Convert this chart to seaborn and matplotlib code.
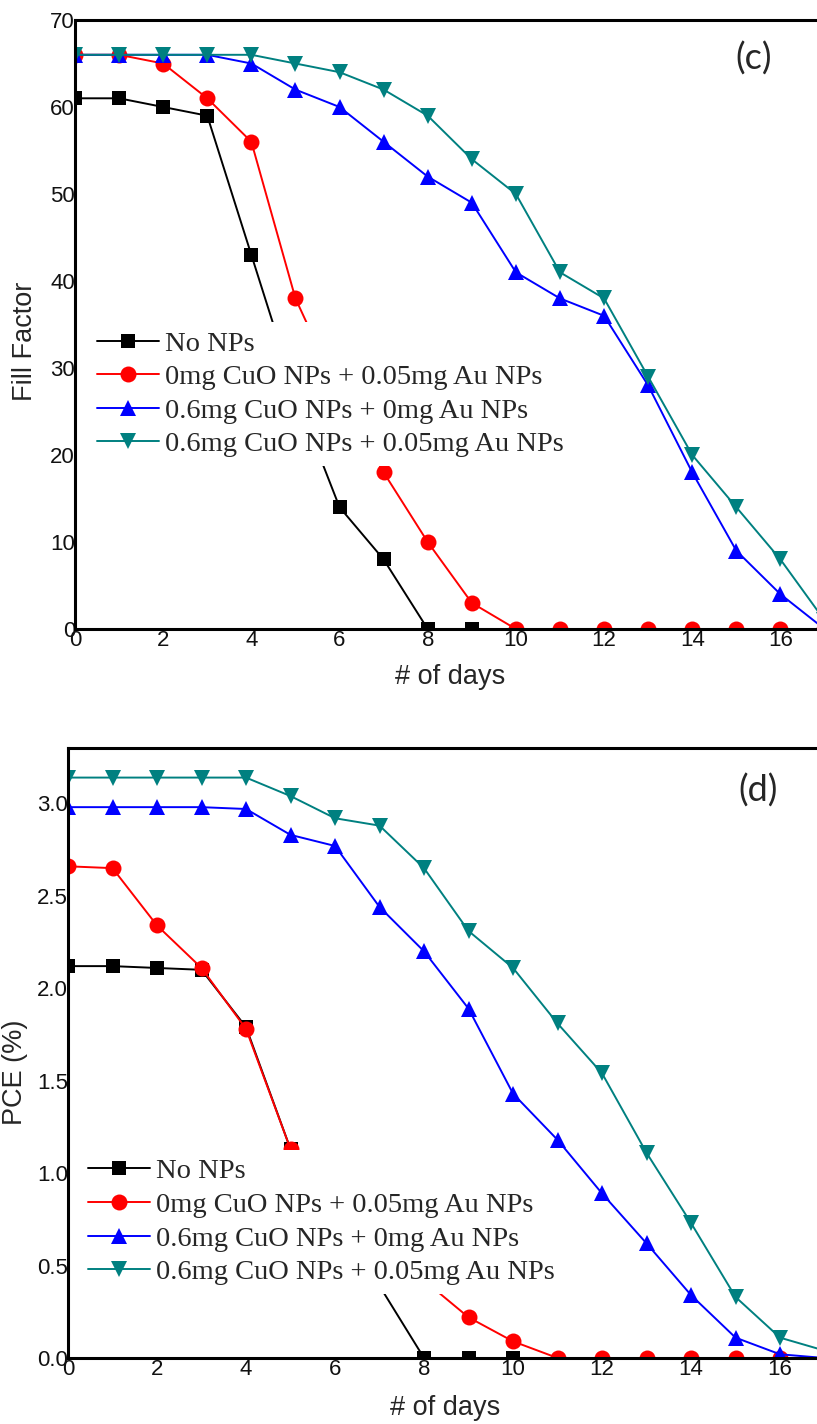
import numpy as np
import pandas as pd
import matplotlib
matplotlib.use("Agg")
import matplotlib.pyplot as plt
import seaborn as sns
from matplotlib.font_manager import FontProperties

# ---------------- data ----------------
labels = ["No NPs",
          "0mg CuO NPs + 0.05mg Au NPs",
          "0.6mg CuO NPs + 0mg Au NPs",
          "0.6mg CuO NPs + 0.05mg Au NPs"]
colors = ["#000000", "#FF0000", "#0000FF", "#008080"]
markers = ["s", "o", "^", "v"]
msizes = [10.5, 11.5, 12, 12]

ff_no = [61, 61, 60, 59, 43, 27, 14, 8, 0, 0]
ff_au = [66, 66, 65, 61, 56, 38, 27, 18, 10, 3, 0, 0, 0, 0, 0, 0, 0, 0]
ff_cuo = [66, 66, 66, 66, 65, 62, 60, 56, 52, 49, 41, 38, 36, 28, 18, 9, 4, 0]
ff_both = [66, 66, 66, 66, 66, 65, 64, 62, 59, 54, 50, 41, 38, 29, 20, 14, 8, 1]

pce_no = [2.12, 2.12, 2.11, 2.10, 1.79, 1.13, 0.76, 0.39, 0, 0, 0]
pce_au = [2.66, 2.65, 2.34, 2.11, 1.78, 1.13, 0.80, 0.60, 0.42, 0.22, 0.09,
          0, 0, 0, 0, 0, 0, 0]
pce_cuo = [2.98, 2.98, 2.98, 2.98, 2.97, 2.83, 2.77, 2.44, 2.20, 1.89, 1.43,
           1.18, 0.89, 0.62, 0.34, 0.11, 0.02, 0]
pce_both = [3.14, 3.14, 3.14, 3.14, 3.14, 3.04, 2.92, 2.88, 2.65, 2.31, 2.11,
            1.81, 1.54, 1.11, 0.73, 0.33, 0.11, 0.04]

x_ticks = [0, 2, 4, 6, 8, 10, 12, 14, 16]
ff_yticks = [0, 10, 20, 30, 40, 50, 60, 70]
pce_yticks = [0.0, 0.5, 1.0, 1.5, 2.0, 2.5, 3.0]

# ---------------- style ----------------
sns.set_style("white")
plt.rcParams["font.family"] = ["Liberation Sans", "DejaVu Sans"]

W, H = 817, 1424
fig = plt.figure(figsize=(W / 100, H / 100), dpi=100)

def px_axes(left, top, right, bottom):
    return fig.add_axes([left / W, 1 - bottom / H, (right - left) / W, (bottom - top) / H])

ax1 = px_axes(75, 20, 817, 629)
ax2 = px_axes(68, 748, 817, 1358)

legend_font = FontProperties(family=["Liberation Serif", "DejaVu Serif"], size=20.5)
tick_font_size = 16
label_font_size = 19.5


def draw(ax, series, ylim, yticks, ylabel, yfmt, letter, letter_pos, label_pos,
         xlabel_pos, leg_anchor):
    for vals, lab, c, m, ms in zip(series, labels, colors, markers, msizes):
        df = pd.DataFrame({"day": np.arange(len(vals)), "val": vals})
        sns.lineplot(data=df, x="day", y="val", ax=ax, color=c, marker=m,
                     markersize=ms, markeredgewidth=0, linewidth=1.4,
                     label=lab, errorbar=None)
    ax.set_xlim(0, 16.83)
    ax.set_ylim(*ylim)
    ax.set_xticks(x_ticks)
    ax.set_yticks(yticks)
    ax.set_yticklabels([yfmt.format(v) for v in yticks])
    ax.tick_params(axis="both", length=0, labelsize=tick_font_size, colors="#111111")
    ax.tick_params(axis="y", pad=0)
    ax.tick_params(axis="x", pad=1)
    for s in ["left", "bottom", "top"]:
        ax.spines[s].set_visible(True)
        ax.spines[s].set_linewidth(2.2)
        ax.spines[s].set_color("black")
    ax.spines["right"].set_visible(False)
    ax.set_xlabel("# of days", fontsize=label_font_size)
    ax.set_ylabel(ylabel, fontsize=label_font_size)
    ax.yaxis.label.set_va("center")
    ax.xaxis.label.set_va("center")
    ax.yaxis.set_label_coords(*label_pos)
    ax.xaxis.set_label_coords(*xlabel_pos)
    ax.text(letter_pos[0], letter_pos[1], letter, transform=ax.transAxes,
            ha="center", va="center", fontsize=26, family=["Lato", "DejaVu Sans"])
    leg = ax.legend(loc="upper left", bbox_to_anchor=leg_anchor, frameon=True,
                    fancybox=False, edgecolor="none", facecolor="white",
                    framealpha=1, prop=legend_font, handlelength=2.2,
                    handletextpad=0.2, labelspacing=0.27, borderpad=0.3,
                    borderaxespad=0)
    leg.set_zorder(10)


draw(ax1, [ff_no, ff_au, ff_cuo, ff_both], (0, 70), ff_yticks, "Fill Factor",
     "{:d}", "(c)", (0.914, 0.936), (-0.067, 0.473), (0.505, -0.079),
     (0.0175, 0.504))
draw(ax2, [pce_no, pce_au, pce_cuo, pce_both], (0, 3.30), pce_yticks, "PCE (%)",
     "{:.1f}", "(d)", (0.921, 0.931), (-0.071, 0.469), (0.503, -0.082),
     (0.0147, 0.341))

fig.savefig("out.png", dpi=100)
